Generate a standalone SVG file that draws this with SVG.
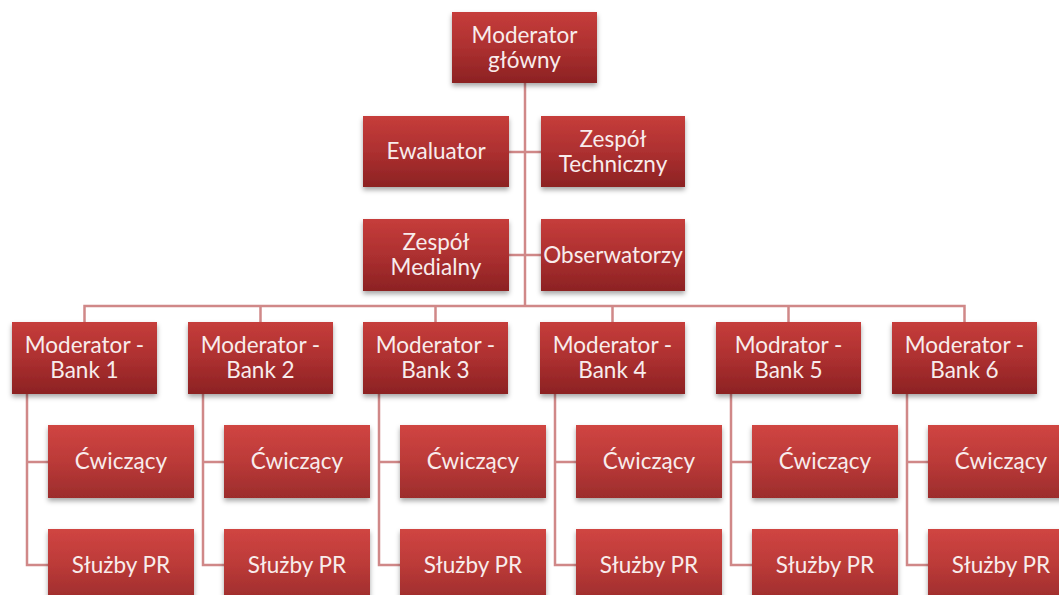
<svg xmlns="http://www.w3.org/2000/svg" width="1059" height="595" viewBox="0 0 1059 595">
  <defs>
    <linearGradient id="boxFill" x1="0" y1="0" x2="0" y2="1">
      <stop offset="0" stop-color="#c63d3b"/>
      <stop offset="0.5" stop-color="#ad3030"/>
      <stop offset="1" stop-color="#8c2223"/>
    </linearGradient>
    <linearGradient id="leafFill" x1="0" y1="0" x2="0" y2="1">
      <stop offset="0" stop-color="#d04542"/>
      <stop offset="0.5" stop-color="#bb3a38"/>
      <stop offset="1" stop-color="#9c2c2c"/>
    </linearGradient>
    <filter id="shadow" x="-10%" y="-10%" width="120%" height="130%">
      <feDropShadow dx="0" dy="3" stdDeviation="2.5" flood-color="#000" flood-opacity="0.35"/>
    </filter>
  </defs>
  <style>
    .box { fill: url(#boxFill); filter: url(#shadow); }
    .leaf { fill: url(#leafFill); filter: url(#shadow); }
    .lbl { font-family: Lato, "Open Sans", "Liberation Sans", sans-serif; font-size: 22.5px; fill: #f8ecec; text-anchor: middle; }
    .con { fill: none; stroke: #d08888; stroke-width: 2.5; }
  </style>
  <rect width="1059" height="595" fill="#ffffff"/>

  <g id="connectors">
    <path class="con" d="M525 83 V306"/>
    <path class="con" d="M509 152 H541 M509 255 H541"/>
    <path class="con" d="M84.5 322 V306 H964.5 V322"/>
    <path class="con" d="M260.5 306 V322 M435.5 306 V322 M612.5 306 V322 M788.5 306 V322"/>
    <path class="con" d="M27 394 V565 H48 M27 462 H48"/>
    <path class="con" d="M203 394 V565 H224 M203 462 H224"/>
    <path class="con" d="M379 394 V565 H400 M379 462 H400"/>
    <path class="con" d="M555 394 V565 H576 M555 462 H576"/>
    <path class="con" d="M731 394 V565 H752 M731 462 H752"/>
    <path class="con" d="M907 394 V565 H928 M907 462 H928"/>
  </g>

  <g id="moderator-glowny">
    <rect class="box" x="452" y="12" width="145" height="71"/>
    <text class="lbl" x="524.5" y="43">Moderator</text>
    <text class="lbl" x="524.5" y="68">główny</text>
  </g>
  <g id="ewaluator">
    <rect class="box" x="363" y="116" width="146" height="71"/>
    <text class="lbl" x="436" y="159">Ewaluator</text>
  </g>
  <g id="zespol-techniczny">
    <rect class="box" x="541" y="116" width="144" height="71"/>
    <text class="lbl" x="613" y="147">Zespół</text>
    <text class="lbl" x="613" y="172">Techniczny</text>
  </g>
  <g id="zespol-medialny">
    <rect class="box" x="363" y="219" width="146" height="72"/>
    <text class="lbl" x="436" y="250">Zespół</text>
    <text class="lbl" x="436" y="275">Medialny</text>
  </g>
  <g id="obserwatorzy">
    <rect class="box" x="541" y="219" width="144" height="72"/>
    <text class="lbl" x="613" y="263">Obserwatorzy</text>
  </g>

  <g id="bank-1">
    <rect class="box" x="12" y="322" width="145" height="72"/>
    <text class="lbl" x="84.5" y="353">Moderator -</text>
    <text class="lbl" x="84.5" y="378">Bank 1</text>
  </g>
  <g id="bank-2">
    <rect class="box" x="188" y="322" width="145" height="72"/>
    <text class="lbl" x="260.5" y="353">Moderator -</text>
    <text class="lbl" x="260.5" y="378">Bank 2</text>
  </g>
  <g id="bank-3">
    <rect class="box" x="363" y="322" width="145" height="72"/>
    <text class="lbl" x="435.5" y="353">Moderator -</text>
    <text class="lbl" x="435.5" y="378">Bank 3</text>
  </g>
  <g id="bank-4">
    <rect class="box" x="540" y="322" width="145" height="72"/>
    <text class="lbl" x="612.5" y="353">Moderator -</text>
    <text class="lbl" x="612.5" y="378">Bank 4</text>
  </g>
  <g id="bank-5">
    <rect class="box" x="716" y="322" width="145" height="72"/>
    <text class="lbl" x="788.5" y="353">Modrator -</text>
    <text class="lbl" x="788.5" y="378">Bank 5</text>
  </g>
  <g id="bank-6">
    <rect class="box" x="892" y="322" width="145" height="72"/>
    <text class="lbl" x="964.5" y="353">Moderator -</text>
    <text class="lbl" x="964.5" y="378">Bank 6</text>
  </g>

  <g id="cwiczacy-1"><rect class="leaf" x="48" y="425" width="146" height="73"/><text class="lbl" x="121" y="469">Ćwiczący</text></g>
  <g id="cwiczacy-2"><rect class="leaf" x="224" y="425" width="146" height="73"/><text class="lbl" x="297" y="469">Ćwiczący</text></g>
  <g id="cwiczacy-3"><rect class="leaf" x="400" y="425" width="146" height="73"/><text class="lbl" x="473" y="469">Ćwiczący</text></g>
  <g id="cwiczacy-4"><rect class="leaf" x="576" y="425" width="146" height="73"/><text class="lbl" x="649" y="469">Ćwiczący</text></g>
  <g id="cwiczacy-5"><rect class="leaf" x="752" y="425" width="146" height="73"/><text class="lbl" x="825" y="469">Ćwiczący</text></g>
  <g id="cwiczacy-6"><rect class="leaf" x="928" y="425" width="146" height="73"/><text class="lbl" x="1001" y="469">Ćwiczący</text></g>

  <g id="sluzby-pr-1"><rect class="leaf" x="48" y="529" width="146" height="73"/><text class="lbl" x="121" y="573">Służby PR</text></g>
  <g id="sluzby-pr-2"><rect class="leaf" x="224" y="529" width="146" height="73"/><text class="lbl" x="297" y="573">Służby PR</text></g>
  <g id="sluzby-pr-3"><rect class="leaf" x="400" y="529" width="146" height="73"/><text class="lbl" x="473" y="573">Służby PR</text></g>
  <g id="sluzby-pr-4"><rect class="leaf" x="576" y="529" width="146" height="73"/><text class="lbl" x="649" y="573">Służby PR</text></g>
  <g id="sluzby-pr-5"><rect class="leaf" x="752" y="529" width="146" height="73"/><text class="lbl" x="825" y="573">Służby PR</text></g>
  <g id="sluzby-pr-6"><rect class="leaf" x="928" y="529" width="146" height="73"/><text class="lbl" x="1001" y="573">Służby PR</text></g>
</svg>
